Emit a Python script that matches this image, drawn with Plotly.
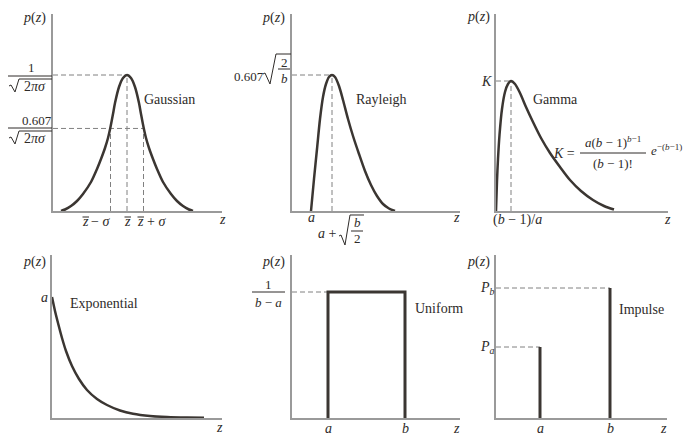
import plotly.graph_objects as go

W, H = 695, 435
FONT = "Liberation Serif"
INK = "#3b3632"
AXC = "#9a9a9a"
DSH = "#808080"
TXT = "#2e2b29"

# ---------------- data (arbitrary units) ----------------
gauss_z = [8, 12, 18, 24, 30, 38, 44, 48, 52, 55, 57.5, 60, 62, 66, 70, 74,
           78, 82, 86, 88, 90.5, 93, 96, 100, 104, 110, 118, 124, 130, 136, 140]
gauss_p = [0, 1.5, 5, 10, 17, 29, 42, 52, 63, 73, 84, 97, 108, 124, 133, 136,
           133, 124, 108, 97, 84, 73, 63, 52, 42, 29, 17, 10, 5, 1.5, 0]
gauss_mean = 74
gauss_sigma = 16.5

rayl_z = [19, 22, 25, 28, 31, 34, 37, 40, 43, 47, 51, 56, 61, 67, 73, 79, 85, 91, 97, 103]
rayl_p = [0, 32, 62, 92, 114, 127, 134, 136, 134, 125, 111, 92, 75, 57, 40, 26, 15, 7, 2.5, 0]

gamma_z = [0, 1, 2, 3.5, 6, 9, 12, 15, 19, 24, 30, 37, 45, 54, 64, 74, 85, 97, 108, 118]
gamma_p = [0, 30, 52, 76, 102, 119, 127, 130, 127, 118, 104, 89, 73, 58, 44, 31, 20, 11, 5, 1.5]

expo_z = [0, 3, 6, 10, 14, 20, 27, 35, 45, 55, 68, 81, 98, 115, 135, 152]
expo_p = [121, 107, 95, 80, 67, 52, 39, 28, 19, 13, 7.5, 4.2, 2, 1, 0.5, 0.3]

unif_a, unif_b = 36, 113
unif_level = 126

imp_a, imp_b = 44, 114
imp_Pa, imp_Pb = 71, 130

# ---------------- layout geometry ----------------
# (left, right, top, bottom) pixel bounds of each panel's axes
panels = [
    (53, 222, 14, 211),
    (292, 460, 14, 211),
    (496, 668, 14, 211),
    (52, 222, 255, 418),
    (292, 460, 255, 418),
    (496, 667, 255, 418),
]

fig = go.Figure()
layout = dict(width=W, height=H, margin=dict(l=0, r=0, t=0, b=0),
              paper_bgcolor="white", plot_bgcolor="white", showlegend=False)
for i, (l, r, t, b) in enumerate(panels, start=1):
    sx = "" if i == 1 else str(i)
    layout["xaxis" + sx] = dict(domain=[l / W, r / W], range=[0, r - l], anchor="y" + sx,
                                showline=True, linecolor=AXC, linewidth=1.5, showgrid=False,
                                zeroline=False, showticklabels=False, ticks="", fixedrange=True)
    layout["yaxis" + sx] = dict(domain=[1 - b / H, 1 - t / H], range=[0, b - t], anchor="x" + sx,
                                showline=True, linecolor=AXC, linewidth=1.5, showgrid=False,
                                zeroline=False, showticklabels=False, ticks="", fixedrange=True)
fig.update_layout(**layout)


def ax(i):
    return ("x" if i == 1 else "x%d" % i), ("y" if i == 1 else "y%d" % i)


def curve(i, xs, ys, spline=True, width=2.5):
    xa, ya = ax(i)
    fig.add_trace(go.Scatter(x=xs, y=ys, mode="lines", xaxis=xa, yaxis=ya, hoverinfo="skip",
                             line=dict(color=INK, width=width,
                                       shape="spline" if spline else "linear", smoothing=0.8)))


def dashed(i, xs, ys):
    xa, ya = ax(i)
    fig.add_trace(go.Scatter(x=xs, y=ys, mode="lines", xaxis=xa, yaxis=ya, hoverinfo="skip",
                             line=dict(color=DSH, width=1, dash="5px,3px")))


# Gaussian
gpk = max(gauss_p)
g607 = 0.607 * gpk
dashed(1, [0, gauss_mean], [gpk, gpk])
dashed(1, [0, gauss_mean + gauss_sigma], [g607, g607])
dashed(1, [gauss_mean, gauss_mean], [0, gpk])
dashed(1, [gauss_mean - gauss_sigma] * 2, [0, g607])
dashed(1, [gauss_mean + gauss_sigma] * 2, [0, g607])
curve(1, gauss_z, gauss_p)

# Rayleigh
rpk = max(rayl_p)
rx = rayl_z[rayl_p.index(rpk)]
dashed(2, [0, rx], [rpk, rpk])
dashed(2, [rx, rx], [0, rpk])
curve(2, rayl_z, rayl_p)

# Gamma
kpk = max(gamma_p)
kx = gamma_z[gamma_p.index(kpk)]
dashed(3, [0, kx], [kpk, kpk])
dashed(3, [kx, kx], [0, kpk])
curve(3, gamma_z, gamma_p)

# Exponential
curve(4, expo_z, expo_p)

# Uniform
dashed(5, [0, unif_a], [unif_level, unif_level])
curve(5, [unif_a, unif_a, unif_b, unif_b], [0, unif_level, unif_level, 0], spline=False, width=3)

# Impulse
dashed(6, [0, imp_a], [imp_Pa, imp_Pa])
dashed(6, [0, imp_b], [imp_Pb, imp_Pb])
curve(6, [imp_a, imp_a], [0, imp_Pa], spline=False, width=3)
curve(6, [imp_b, imp_b], [0, imp_Pb], spline=False, width=3)

# ---------------- text ----------------
anns = []
shapes = []


def txt(x, y, s, size=14, xanchor="center"):
    anns.append(dict(x=x / W, y=1 - y / H, xref="paper", yref="paper",
                     text=s, showarrow=False, xanchor=xanchor, yanchor="middle",
                     font=dict(family=FONT, size=size, color=TXT)))


def bar(x0, x1, y, w=1):
    shapes.append(dict(type="line", xref="paper", yref="paper", x0=x0 / W, x1=x1 / W,
                       y0=1 - y / H, y1=1 - y / H, line=dict(color=TXT, width=w)))


def radical(pts):
    p = " ".join(("M" if k == 0 else "L") + " %.5f,%.5f" % (x / W, 1 - y / H)
                 for k, (x, y) in enumerate(pts))
    shapes.append(dict(type="path", xref="paper", yref="paper", path=p,
                       line=dict(color=TXT, width=1)))


def zbar(x, y):
    # letter z with an overbar
    txt(x, y, "<i>z</i>")
    bar(x - 2.5, x + 4, y - 4)


PZ = "<i>p</i>(<i>z</i>)"

# Gaussian labels
txt(48, 18, PZ, xanchor="right")
txt(31, 67, "1", size=13)
bar(8, 52, 76)
radical([(9, 86), (11, 85), (15, 92), (19, 79), (52, 79)])
txt(35, 86, "2<i>π</i><i>σ</i>", size=14)
txt(37, 120, "0.607", size=13)
bar(8, 52, 128)
radical([(9, 138), (11, 137), (15, 144), (19, 131), (52, 131)])
txt(35, 138, "2<i>π</i><i>σ</i>", size=14)
txt(142, 99, "Gaussian", xanchor="left")
zbar(85, 221)
txt(89, 221, "− <i>σ</i>", xanchor="left")
zbar(127, 221)
zbar(140, 221)
txt(145, 221, "+ <i>σ</i>", xanchor="left")
txt(222, 219, "<i>z</i>")

# Rayleigh labels
txt(287, 18, PZ, xanchor="right")
txt(249, 76, "0.607", size=13)
radical([(263, 74), (265, 73), (270, 84), (276, 54), (291, 54)])
txt(284, 62, "2", size=13)
bar(278, 290, 69)
txt(284, 78, "<i>b</i>", size=13)
txt(354, 99, "Rayleigh", xanchor="left")
txt(311, 218, "<i>a</i>")
txt(327, 233, "<i>a</i> +")
radical([(339, 236), (341, 235), (345, 245), (350, 215), (364, 215)])
txt(357, 223, "<i>b</i>", size=13)
bar(351, 363, 231)
txt(357, 239, "2", size=13)
txt(457, 218, "<i>z</i>")

# Gamma labels
txt(492, 17, PZ, xanchor="right")
txt(486, 81, "<i>K</i>")
txt(531, 99, "Gamma", xanchor="left")
txt(564, 153, "<i>K</i> =")
txt(613, 142, "<i>a</i>(<i>b</i> − 1)<sup><i>b</i>−1</sup>", size=13)
bar(580, 646, 153)
txt(613, 164, "(<i>b</i> − 1)!", size=13)
txt(649, 150, "<i>e</i><sup>−(<i>b</i>−1)</sup>", size=13, xanchor="left")
txt(517, 220, "(<i>b</i> − 1)/<i>a</i>")
txt(667, 219, "<i>z</i>")

# Exponential labels
txt(48, 262, PZ, xanchor="right")
txt(44, 297, "<i>a</i>")
txt(68, 303, "Exponential", xanchor="left")
txt(219, 427, "<i>z</i>")

# Uniform labels
txt(287, 262, PZ, xanchor="right")
txt(268, 284, "1", size=13)
bar(252, 285, 292)
txt(268, 302, "<i>b</i> − <i>a</i>", size=13)
txt(413, 308, "Uniform", xanchor="left")
txt(328, 428, "<i>a</i>")
txt(405, 428, "<i>b</i>")
txt(457, 428, "<i>z</i>")

# Impulse labels
txt(492, 262, PZ, xanchor="right")
txt(487, 288, "<i>P<sub>b</sub></i>")
txt(487, 347, "<i>P<sub>a</sub></i>")
txt(617, 309, "Impulse", xanchor="left")
txt(540, 428, "<i>a</i>")
txt(610, 428, "<i>b</i>")
txt(663, 428, "<i>z</i>")

fig.update_layout(annotations=anns, shapes=shapes)
fig.write_html("out.html")
